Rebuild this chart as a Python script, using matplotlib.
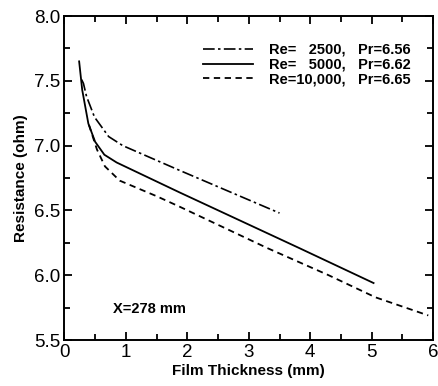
import numpy as np
import matplotlib
matplotlib.use('Agg')
import matplotlib.pyplot as plt
from matplotlib.ticker import MultipleLocator, FormatStrFormatter

# Re=2500 (dash-dot)
x1 = [0.28, 0.31, 0.36, 0.49, 0.72, 0.95, 1.87, 3.50]
y1 = [7.51, 7.48, 7.38, 7.22, 7.07, 7.00, 6.81, 6.48]
# Re=5000 (solid)
x2 = [0.24, 0.29, 0.39, 0.50, 0.65, 0.85, 1.87, 3.82, 5.03]
y2 = [7.65, 7.43, 7.17, 7.03, 6.93, 6.87, 6.64, 6.21, 5.94]
# Re=10,000 (dashed)
x3 = [0.40, 0.53, 0.66, 0.90, 1.50, 1.87, 3.30, 4.30, 5.06, 5.92]
y3 = [7.16, 6.97, 6.84, 6.73, 6.61, 6.53, 6.21, 6.00, 5.83, 5.69]

labels = ['Re=   2500,   Pr=6.56', 'Re=   5000,   Pr=6.62', 'Re=10,000,   Pr=6.65']

plt.rcParams['font.family'] = ['Liberation Sans', 'DejaVu Sans']

fig = plt.figure(figsize=(4.38, 3.86), dpi=100)
ax = fig.add_axes([0.147, 0.119, 0.842, 0.8395])

ax.plot(x1, y1, color='black', lw=1.2, ls=(0, (7, 2, 1.5, 2)), label=labels[0])
ax.plot(x2, y2, color='black', lw=1.3, ls='-', label=labels[1])
ax.plot(x3, y3, color='black', lw=1.3, ls=(0, (3.5, 2.5)), label=labels[2])

ax.set_xlim(0, 6)
ax.set_ylim(5.5, 8.0)
ax.xaxis.set_major_locator(MultipleLocator(1))
ax.xaxis.set_minor_locator(MultipleLocator(0.5))
ax.yaxis.set_major_locator(MultipleLocator(0.5))
ax.yaxis.set_minor_locator(MultipleLocator(0.25))
ax.yaxis.set_major_formatter(FormatStrFormatter('%.1f'))
ax.tick_params(which='both', direction='in', top=True, right=True, width=1.3, labelsize=13.5)
ax.tick_params(which='major', length=6)
ax.tick_params(which='minor', length=4)
ax.tick_params(axis='x', pad=3)
ax.tick_params(axis='y', pad=3)
for s in ax.spines.values():
    s.set_linewidth(1.4)

ax.set_xlabel('Film Thickness (mm)', fontsize=11, fontweight='bold', labelpad=2)
ax.set_ylabel('Resistance (ohm)', fontsize=11, fontweight='bold', labelpad=4)

ax.text(0.79, 5.74, 'X=278 mm', fontsize=10.5, fontweight='bold', va='center')

leg = ax.legend(loc='upper right', bbox_to_anchor=(0.955, 0.935), frameon=False,
                prop={'size': 10.5, 'weight': 'bold'}, handlelength=3.4,
                handletextpad=1.1, labelspacing=0.05, borderaxespad=0)

fig.savefig('out.png', dpi=100)
